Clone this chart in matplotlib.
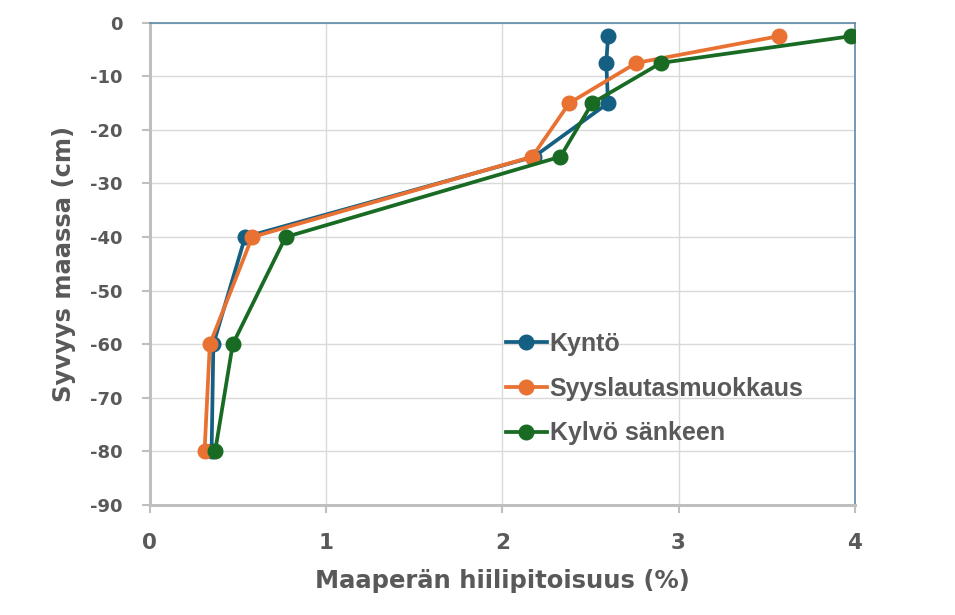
import matplotlib
matplotlib.use("Agg")
import matplotlib.pyplot as plt

depth = [-2.5, -7.5, -15, -25, -40, -60, -80]
kynto = [2.60, 2.59, 2.60, 2.18, 0.54, 0.36, 0.35]
syys = [3.57, 2.76, 2.38, 2.17, 0.58, 0.34, 0.31]
kylvo = [3.98, 2.90, 2.51, 2.33, 0.77, 0.47, 0.37]
names = ["Kyntö", "Syyslautasmuokkaus", "Kylvö sänkeen"]
colors = ["#156082", "#E97132", "#196B24"]
xticks = [0, 1, 2, 3, 4]
yticks = [0, -10, -20, -30, -40, -50, -60, -70, -80, -90]

plt.rcParams['font.family'] = ['DejaVu Sans']
plt.rcParams['axes.unicode_minus'] = False
grey = "#595959"

fig = plt.figure(figsize=(9.55, 6.15), dpi=100)
ax = fig.add_axes([0.157, 0.179, 0.738, 0.784])

for vals, name, c in zip([kynto, syys, kylvo], names, colors):
    ax.plot(vals, depth, color=c, lw=2.7, marker='o', ms=10.5, label=name, zorder=3)

ax.set_xlim(0, 4)
ax.set_ylim(-90, 0)
ax.set_xticks(xticks)
ax.set_yticks(yticks)
ax.grid(True, color="#d9d9d9", lw=1.0, zorder=0)
ax.set_axisbelow(True)

for s in ['left', 'bottom']:
    ax.spines[s].set_color("#bfbfbf")
    ax.spines[s].set_linewidth(2.2)
for s in ['top', 'right']:
    ax.spines[s].set_color("#5b8aa5")
    ax.spines[s].set_linewidth(1.2)

ax.tick_params(axis='both', colors="#bfbfbf", labelcolor=grey, length=6, width=1.5)
ax.tick_params(axis='x', pad=14, labelsize=15.5)
ax.tick_params(axis='y', pad=14, labelsize=13)
for lab in ax.get_yticklabels() + ax.get_xticklabels():
    lab.set_fontweight('bold')

ax.set_xlabel("Maaperän hiilipitoisuus (%)", fontsize=17.5, fontweight='bold', color=grey,
              labelpad=12)
ax.set_ylabel("Syvyys maassa (cm)", fontsize=17.5, fontweight='bold', color=grey,
              labelpad=10)

leg = ax.legend(loc='center left', bbox_to_anchor=(0.505, 0.241), frameon=False,
                borderaxespad=0, borderpad=0,
                handlelength=1.65, handletextpad=0.1, labelspacing=0.83,
                prop={'family': 'Liberation Sans', 'weight': 'bold', 'size': 18})
for t in leg.get_texts():
    t.set_color(grey)

fig.savefig("out.png", dpi=100)
